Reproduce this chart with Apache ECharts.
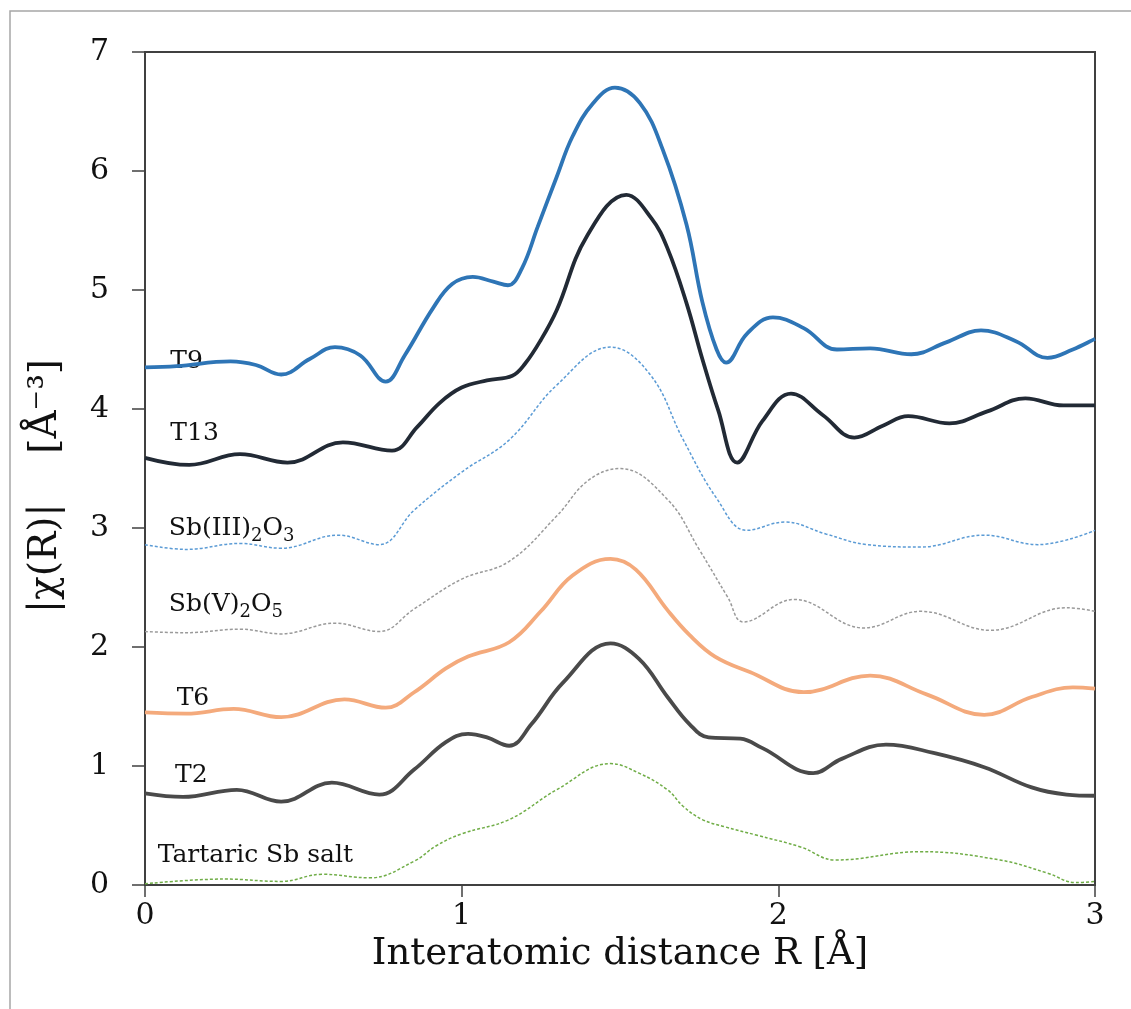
<!DOCTYPE html>
<html>
<head>
    <meta charset="utf-8">
    <title>|χ(R)| spectra</title>
    <style>
        html, body {
            margin: 0;
            padding: 0;
            background: #ffffff;
        }

        #chart {
            width: 1131px;
            height: 1009px;
        }
    </style>
    <script src="https://cdn.jsdelivr.net/npm/echarts@6/dist/echarts.min.js"></script>
</head>
<body>
    <div id="chart"></div>

    <script>
        // [R, |chi(R)|] pairs
        var t9 = [
            [0, 4.35], [0.1, 4.36], [0.27, 4.40], [0.35, 4.37], [0.43, 4.29], [0.52, 4.42],
            [0.6, 4.52], [0.68, 4.45], [0.76, 4.23], [0.82, 4.45], [0.91, 4.85], [0.97, 5.05],
            [1.035, 5.11], [1.1, 5.07], [1.146, 5.04], [1.19, 5.18], [1.24, 5.53], [1.3, 5.95],
            [1.35, 6.29], [1.415, 6.57], [1.484, 6.70], [1.563, 6.57], [1.635, 6.18], [1.71, 5.55],
            [1.76, 4.9], [1.805, 4.5], [1.835, 4.39], [1.9, 4.63], [1.983, 4.77], [2.08, 4.68],
            [2.185, 4.50], [2.29, 4.51], [2.42, 4.46], [2.53, 4.56], [2.64, 4.66], [2.75, 4.57],
            [2.85, 4.43], [2.93, 4.50], [3.0, 4.59]
        ];
        var t13 = [
            [0, 3.59], [0.14, 3.53], [0.3, 3.62], [0.45, 3.55], [0.625, 3.72], [0.78, 3.65],
            [0.86, 3.85], [0.93, 4.05], [1.0, 4.18], [1.08, 4.24], [1.16, 4.28], [1.2, 4.38],
            [1.25, 4.58], [1.3, 4.83], [1.395, 5.45], [1.52, 5.80], [1.6, 5.6], [1.65, 5.35],
            [1.71, 4.89], [1.76, 4.42], [1.81, 3.99], [1.87, 3.55], [1.95, 3.9], [2.04, 4.13],
            [2.14, 3.95], [2.24, 3.76], [2.33, 3.86], [2.41, 3.94], [2.54, 3.88], [2.66, 3.98],
            [2.78, 4.09], [2.9, 4.03], [3.0, 4.03]
        ];
        var sb3 = [
            [0, 2.86], [0.13, 2.82], [0.3, 2.87], [0.43, 2.83], [0.61, 2.94], [0.74, 2.86],
            [0.85, 3.15], [1.0, 3.47], [1.15, 3.74], [1.3, 4.2], [1.47, 4.52], [1.595, 4.29],
            [1.7, 3.74], [1.805, 3.25], [1.9, 2.98], [2.02, 3.05], [2.15, 2.95], [2.28, 2.86],
            [2.45, 2.84], [2.65, 2.94], [2.82, 2.86], [3.0, 2.98]
        ];
        var sb5 = [
            [0, 2.13], [0.13, 2.12], [0.3, 2.15], [0.43, 2.11], [0.6, 2.20], [0.74, 2.13],
            [0.85, 2.32], [1.0, 2.57], [1.15, 2.72], [1.3, 3.1], [1.4, 3.4], [1.5, 3.50],
            [1.65, 3.24], [1.75, 2.82], [1.84, 2.42], [1.89, 2.21], [2.05, 2.40], [2.27, 2.16],
            [2.45, 2.30], [2.67, 2.14], [2.91, 2.33], [3.0, 2.30]
        ];
        var t6 = [
            [0, 1.45], [0.13, 1.44], [0.28, 1.48], [0.43, 1.41], [0.63, 1.56], [0.76, 1.49],
            [0.85, 1.62], [0.95, 1.82], [1.02, 1.92], [1.15, 2.04], [1.25, 2.3], [1.35, 2.6],
            [1.47, 2.74], [1.55, 2.65], [1.65, 2.31], [1.72, 2.1], [1.8, 1.92], [1.91, 1.79],
            [2.08, 1.62], [2.29, 1.76], [2.47, 1.6], [2.65, 1.43], [2.8, 1.58], [2.93, 1.66],
            [3.0, 1.65]
        ];
        var t2 = [
            [0, 0.77], [0.12, 0.74], [0.29, 0.80], [0.43, 0.70], [0.59, 0.86], [0.74, 0.76],
            [0.85, 0.97], [0.95, 1.2], [1.02, 1.27], [1.08, 1.24], [1.15, 1.17], [1.22, 1.35],
            [1.32, 1.7], [1.47, 2.03], [1.56, 1.9], [1.65, 1.58], [1.72, 1.35], [1.78, 1.24],
            [1.88, 1.23], [1.95, 1.15], [2.11, 0.94], [2.2, 1.06], [2.34, 1.18], [2.49, 1.11],
            [2.65, 0.99], [2.8, 0.82], [2.91, 0.76], [3.0, 0.75]
        ];
        var tartaric = [
            [0, 0.01], [0.25, 0.05], [0.43, 0.03], [0.56, 0.09], [0.71, 0.06], [0.85, 0.2],
            [0.92, 0.33], [1.0, 0.43], [1.15, 0.55], [1.3, 0.8], [1.47, 1.02], [1.56, 0.94],
            [1.65, 0.80], [1.7, 0.66], [1.76, 0.55], [1.83, 0.49], [1.93, 0.42], [2.07, 0.32],
            [2.18, 0.21], [2.45, 0.28], [2.7, 0.21], [2.85, 0.1], [2.94, 0.02], [3.0, 0.03]
        ];

        var seriesNames = ['T9', 'T13', 'Sb(III)2O3', 'Sb(V)2O5', 'T6', 'T2', 'Tartaric Sb salt'];
        // label texts with the subscripts written as rich-text tokens
        var labelTexts = ['T9', 'T13', 'Sb(III){s|2}O{s|3}', 'Sb(V){s|2}O{s|5}', 'T6', 'T2', 'Tartaric Sb salt'];
        var seriesData = [t9, t13, sb3, sb5, t6, t2, tartaric];
        var seriesColors = ['#2e75b6', '#222a35', '#5b9bd5', '#9a9a9a', '#f4aa7c', '#4a4a4a', '#70ad47'];
        var seriesDotted = [false, false, true, true, false, false, true];

        // where each curve's label sits, in data units [R, value]
        var labelPos = [
            [0.08, 4.40], [0.08, 3.79], [0.075, 3.0], [0.075, 2.36], [0.1, 1.57], [0.095, 0.92], [0.04, 0.25]
        ];

        var xTicks = [0, 1, 2, 3];
        var yTicks = [0, 1, 2, 3, 4, 5, 6, 7];

        var serif = '"DejaVu Serif", "Liberation Serif", serif';
        var chart = echarts.init(document.getElementById('chart'));

        var series = seriesData.map(function (d, i) {
            return {
                name: seriesNames[i],
                type: 'line',
                data: d,
                smooth: 0.4,
                showSymbol: false,
                z: seriesDotted[i] ? 2 : 3,
                lineStyle: {
                    color: seriesColors[i],
                    width: seriesDotted[i] ? 1.5 : 3.8,
                    type: seriesDotted[i] ? [3, 2] : 'solid'
                }
            };
        });

        chart.setOption({
            animation: false,
            grid: {
                left: 145,
                top: 52,
                right: 36,
                bottom: 124,
                show: true,
                borderColor: '#404040',
                borderWidth: 2
            },
            xAxis: {
                type: 'value',
                min: xTicks[0],
                max: xTicks[xTicks.length - 1],
                interval: 1,
                splitLine: { show: false },
                axisLine: { lineStyle: { color: '#404040', width: 2 } },
                axisTick: { inside: false, length: 12, lineStyle: { color: '#404040', width: 1.5 } },
                axisLabel: { color: '#111', fontFamily: serif, fontSize: 30, margin: 16 },
                name: 'Interatomic distance R [Å]',
                nameLocation: 'middle',
                nameGap: 50,
                nameTextStyle: { color: '#111', fontFamily: serif, fontSize: 37 }
            },
            yAxis: {
                type: 'value',
                min: yTicks[0],
                max: yTicks[yTicks.length - 1],
                interval: 1,
                splitLine: { show: false },
                axisLine: { lineStyle: { color: '#404040', width: 2 } },
                axisTick: { inside: false, length: 13, lineStyle: { color: '#404040', width: 1.5 } },
                axisLabel: { color: '#111', fontFamily: serif, fontSize: 30, margin: 36 }
            },
            series: series
        });

        var graphics = [
            {
                type: 'rect',
                shape: { x: 10, y: 11, width: 1200, height: 1100 },
                style: { fill: 'none', stroke: '#a6a6a6', lineWidth: 1.5 },
                silent: true
            },
            {
                type: 'text',
                x: 46,
                y: 486,
                rotation: Math.PI / 2,
                style: {
                    text: '|χ(R)|    [Å⁻³]',
                    font: '39px ' + serif,
                    fill: '#111',
                    align: 'center',
                    verticalAlign: 'middle'
                }
            }
        ];

        labelPos.forEach(function (p, i) {
            var px = chart.convertToPixel({ gridIndex: 0 }, p);
            graphics.push({
                type: 'text',
                x: px[0],
                y: px[1],
                style: {
                    text: labelTexts[i],
                    font: '25px ' + serif,
                    fill: '#111',
                    align: 'left',
                    verticalAlign: 'middle',
                    lineHeight: 34,
                    rich: {
                        s: { fontSize: 18, fontFamily: serif, lineHeight: 18, verticalAlign: 'bottom' }
                    }
                }
            });
        });

        chart.setOption({ graphic: graphics });
    </script>
</body>
</html>
